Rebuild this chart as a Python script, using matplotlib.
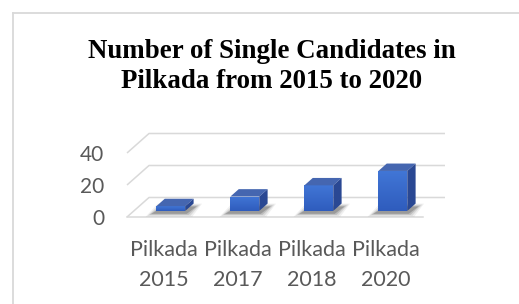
import matplotlib
matplotlib.use("Agg")
import matplotlib.pyplot as plt
import numpy as np
from matplotlib.patches import Polygon
from matplotlib.lines import Line2D
from matplotlib.colors import LinearSegmentedColormap

# ---------------- data ----------------
categories = ["Pilkada\n2015", "Pilkada\n2017", "Pilkada\n2018", "Pilkada\n2020"]
values = [3, 9, 16, 25]
yticks = [0, 20, 40]
title_lines = ["Number of Single Candidates in", "Pilkada from 2015 to 2020"]

# ---------------- layout ----------------
W, H = 519, 304
fig = plt.figure(figsize=(W / 100, H / 100), dpi=100)
fig.patch.set_facecolor("white")

left_px, right_px, floor_px = 127, 423, 217
ymax = 50
scale = 1.6  # px per value unit
top_px = floor_px - ymax * scale
ax = fig.add_axes([left_px / W, (H - floor_px) / H,
                   (right_px - left_px) / W, (floor_px - top_px) / H])
ax.set_xlim(-0.5, len(values) - 0.5)
ax.set_ylim(0, ymax)
ax.patch.set_alpha(0)
for s in ax.spines.values():
    s.set_visible(False)

GRID = "#d9d9d9"
TXT = "#595959"
DX = 22 / 74.0          # depth offset in x (category units)
DY = 19.5 / scale       # depth offset in y (value units)

# grid: back wall lines + left diagonals
for v in yticks:
    ax.plot([-0.5, -0.5 + DX, len(values) - 0.5 + DX], [v, v + DY, v + DY],
            color=GRID, lw=1.1, clip_on=False, zorder=1, solid_capstyle="butt")
ax.plot([-0.5, len(values) - 0.5], [0, 0], color=GRID, lw=1.1, clip_on=False, zorder=1)

# bars (pseudo 3D)
z1, z2 = 0.31, 0.69
dz = z2 - z1
w = 0.39
xs = np.arange(len(values)) + z1 * DX
base = z1 * DY

# soft shadows
for i, v in enumerate(values):
    x0 = xs[i] - w / 2
    x1 = xs[i] + w / 2
    for k, a in enumerate([0.06, 0.09, 0.13, 0.18]):
        g = (3 - k) * 0.025
        gy = (3 - k) * 0.6
        pts = [(x0 - 0.07 - g, base - 1.8 - gy), (x1 + 0.02 + g, base - 1.8 - gy),
               (x1 + dz * DX + 0.04 + g, base + dz * DY * 0.6 + gy),
               (x0 + dz * DX - 0.02 - g, base + dz * DY * 0.6 + gy)]
        ax.add_patch(Polygon(pts, closed=True, facecolor="black", alpha=a,
                             edgecolor="none", clip_on=False, zorder=2))

bars = ax.bar(xs, values, width=w, bottom=base, color="#3a68c8",
              edgecolor="none", zorder=3, clip_on=False)

grad = np.linspace(0, 1, 64).reshape(-1, 1)
cmap = LinearSegmentedColormap.from_list("bg", ["#2f5cbd", "#4176d6"])
for i, (b, v) in enumerate(zip(bars, values)):
    x0 = b.get_x()
    x1 = x0 + b.get_width()
    yb = base
    yt = base + v
    im = ax.imshow(grad, extent=[x0, x1, yb, yt], origin="lower", cmap=cmap,
                   aspect="auto", zorder=3.5, clip_on=True)
    im.set_clip_path(b)
    top = [(x0, yt), (x1, yt), (x1 + dz * DX, yt + dz * DY), (x0 + dz * DX, yt + dz * DY)]
    side = [(x1, yb), (x1 + dz * DX, yb + dz * DY), (x1 + dz * DX, yt + dz * DY), (x1, yt)]
    ax.add_patch(Polygon(top, closed=True, facecolor="#4566b0", edgecolor="none",
                         clip_on=False, zorder=4))
    ax.add_patch(Polygon(side, closed=True, facecolor="#2a4893", edgecolor="none",
                         clip_on=False, zorder=4))
ax.set_xlim(-0.5, len(values) - 0.5)
ax.set_ylim(0, ymax)

# ticks
FONT = "Lato"
ax.set_yticks(yticks)
ax.set_yticklabels([str(t) for t in yticks], fontsize=15, color=TXT, family=FONT)
ax.tick_params(axis="y", length=0, pad=16.5)
ax.set_xticks(np.arange(len(categories)))
ax.set_xticklabels(categories, fontsize=15.5, color=TXT, family=FONT, linespacing=1.62)
ax.tick_params(axis="x", length=0, pad=16.5)

# title
fig.text(272 / W, 1 - 58 / H, title_lines[0], ha="center", va="baseline",
         fontsize=19.4, fontweight="bold", family="Liberation Serif", color="black")
fig.text(272 / W, 1 - 87.5 / H, title_lines[1], ha="center", va="baseline",
         fontsize=19.4, fontweight="bold", family="Liberation Serif", color="black")

# chart border (left and top visible)
fig.add_artist(Line2D([12.5 / W, 12.5 / W], [0, 1 - 12.5 / H], color=GRID, lw=1.3,
                      transform=fig.transFigure))
fig.add_artist(Line2D([12.5 / W, 1], [1 - 12.5 / H, 1 - 12.5 / H], color=GRID, lw=1.3,
                      transform=fig.transFigure))

fig.savefig("out.png", dpi=100, facecolor="white")
